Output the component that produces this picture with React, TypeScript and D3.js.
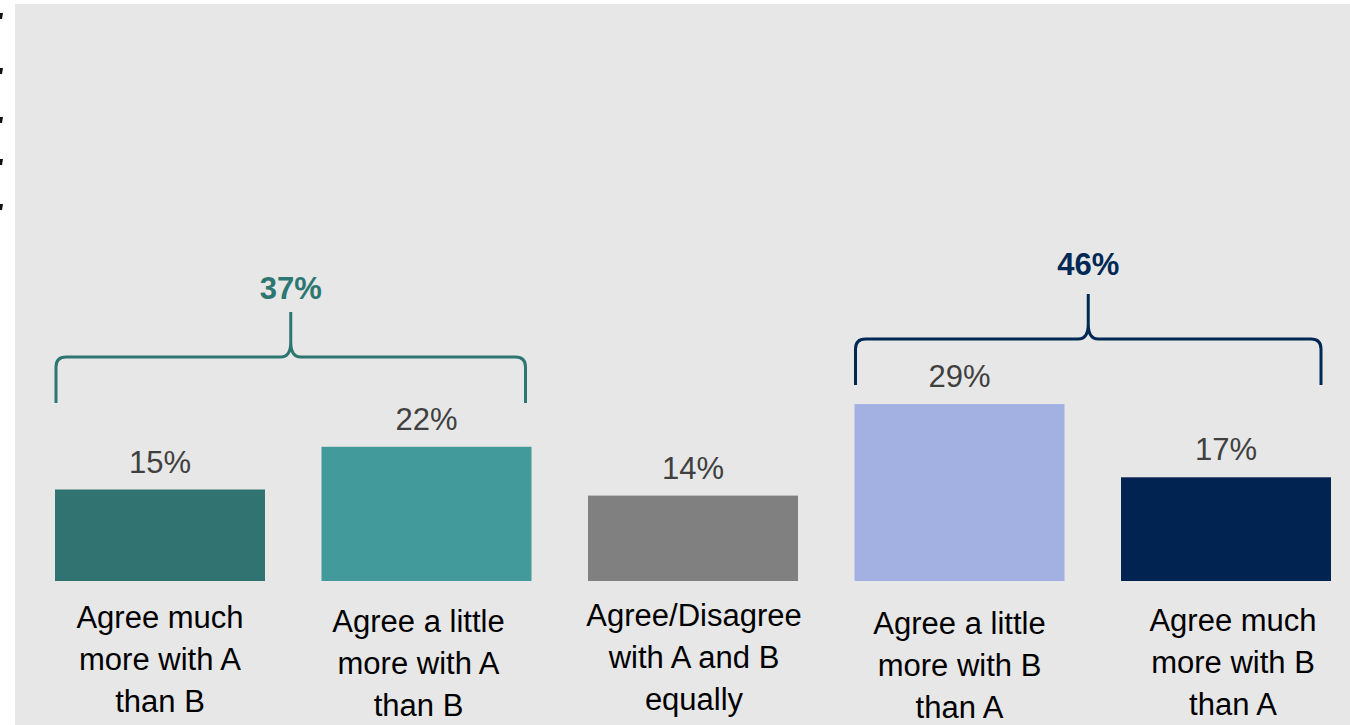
import React from "react";
import * as d3 from "d3";

const categories = [
  ["Agree much", "more with A", "than B"],
  ["Agree a little", "more with A", "than B"],
  ["Agree/Disagree", "with A and B", "equally"],
  ["Agree a little", "more with B", "than A"],
  ["Agree much", "more with B", "than A"],
];
const values = [15, 22, 14, 29, 17];
const valueLabels = ["15%", "22%", "14%", "29%", "17%"];
const barColors = ["#317370", "#429B9A", "#808080", "#A2B0E2", "#002352"];
const groupLabels = ["37%", "46%"];
const groupColors = ["#2E7672", "#002855"];
const groupStart = [0, 3];
const groupEnd = [1, 4];

// layout constants
const W = 1350;
const H = 725;
const BASE = 581;
const labelDy = [628, 632, 626, 634, 631];
const labelDx = [0, -8, 1, 0, 7];
const bracketBottom = [403, 385];
const bracketH = [357, 339];
const bracketTop = [312, 294];
const bracketLabelY = [299, 275];
const bracketRightInset = [6, 10];
const leftMarks = [13, 68, 117, 159, 204];

export default function App() {
  const ids = categories.map((_, i) => String(i));
  const x = d3
    .scaleBand<string>()
    .domain(ids)
    .range([26.75, 1359.25])
    .paddingInner(0.212)
    .paddingOuter(0.106);
  const y = d3.scaleLinear().domain([0, 10]).range([BASE, BASE - 61]);
  const bw = x.bandwidth();
  const font = "'Liberation Sans', Arial, sans-serif";

  const bracketPath = (g: number) => {
    const xL = (x(String(groupStart[g])) as number) + 1;
    const xR = (x(String(groupEnd[g])) as number) + bw - bracketRightInset[g];
    const xC = (xL + xR) / 2;
    const yB = bracketBottom[g];
    const yH = bracketH[g];
    const yT = bracketTop[g];
    const r = 10;
    const r2 = 15;
    const p = d3.path();
    p.moveTo(xL, yB);
    p.lineTo(xL, yH + r);
    p.quadraticCurveTo(xL, yH, xL + r, yH);
    p.lineTo(xC - 10, yH);
    p.quadraticCurveTo(xC, yH, xC, yH - r2);
    p.lineTo(xC, yT);
    p.moveTo(xC, yH - r2);
    p.quadraticCurveTo(xC, yH, xC + 10, yH);
    p.lineTo(xR - r, yH);
    p.quadraticCurveTo(xR, yH, xR, yH + r);
    p.lineTo(xR, yB);
    return { d: p.toString(), xC };
  };

  return (
    <svg
      width={W}
      height={H}
      style={{ position: "absolute", left: 0, top: 0, display: "block" }}
      fontFamily={font}
    >
      <rect x={0} y={0} width={W} height={H} fill="#ffffff" />
      <rect x={15} y={4} width={W - 15} height={H - 4} fill="#E7E7E7" />
      {leftMarks.map((m, i) => (
        <path key={i} d={`M0,${m} L3,${m} L2,${m + 6} L0,${m + 6} Z`} fill="#111" />
      ))}
      {values.map((v, i) => (
        <g key={i}>
          <rect
            x={x(String(i))}
            y={y(v)}
            width={bw}
            height={BASE - y(v)}
            fill={barColors[i]}
          />
          <text
            x={(x(String(i)) as number) + bw / 2}
            y={y(v) - 17}
            textAnchor="middle"
            fontSize={31}
            fill="#404040"
          >
            {valueLabels[i]}
          </text>
          <text textAnchor="middle" fontSize={31} fill="#000">
            {categories[i].map((line, j) => (
              <tspan
                key={j}
                x={(x(String(i)) as number) + bw / 2 + labelDx[i]}
                y={labelDy[i] + j * 42}
              >
                {line}
              </tspan>
            ))}
          </text>
        </g>
      ))}
      {groupLabels.map((lab, g) => {
        const b = bracketPath(g);
        return (
          <g key={g}>
            <path d={b.d} fill="none" stroke={groupColors[g]} strokeWidth={3} />
            <text
              x={b.xC}
              y={bracketLabelY[g]}
              textAnchor="middle"
              fontSize={31}
              fontWeight="bold"
              fill={groupColors[g]}
            >
              {lab}
            </text>
          </g>
        );
      })}
    </svg>
  );
}
